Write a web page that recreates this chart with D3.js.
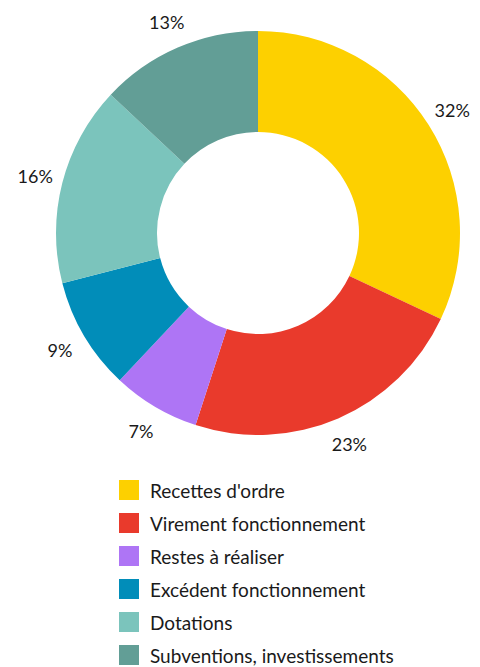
<!DOCTYPE html>
<html><head><meta charset="utf-8">
<script src="https://cdn.jsdelivr.net/npm/d3@7"></script>
<style>body{margin:0;background:#fff;} svg{display:block;}</style>
</head><body>
<svg id="c" width="480" height="667"></svg>
<script>
const categories = ["Recettes d'ordre","Virement fonctionnement","Restes à réaliser","Excédent fonctionnement","Dotations","Subventions, investissements"];
const values = [32, 23, 7, 9, 16, 13];
const colors = ["#FDD000","#E93A2C","#AE75F5","#018DB9","#7BC4BC","#629E96"];

const svg = d3.select("#c");
const font = "'Source Sans Pro', Lato, sans-serif";
const cx = 258, cy = 233, R = 202, r = 101, labelR = 230;
const data = categories.map((c,i)=>({name:c, value:values[i], color:colors[i]}));
const pie = d3.pie().value(d=>d.value).sort(null);
const arcs = pie(data);
const arc = d3.arc().innerRadius(r).outerRadius(R);
const g = svg.append("g").attr("transform",`translate(${cx},${cy})`);
g.selectAll("path").data(arcs).join("path").attr("d",arc).attr("fill",d=>d.data.color);
const labelArc = d3.arc().innerRadius(labelR).outerRadius(labelR);
g.selectAll("text").data(arcs).join("text")
  .attr("transform",d=>`translate(${labelArc.centroid(d)})`)
  .attr("text-anchor","middle").attr("dominant-baseline","central")
  .style("font-family",font).style("font-size","18px").attr("fill","#1a1a1a")
  .text(d=>d.data.value+"%");

const color = d3.scaleOrdinal().domain(categories).range(colors);
const leg = svg.append("g");
const y = d3.scaleBand().domain(categories).range([480, 480+33*6]);
const rows = leg.selectAll("g").data(categories).join("g").attr("transform",d=>`translate(119,${y(d)})`);
rows.append("rect").attr("width",20).attr("height",20).attr("fill",d=>color(d));
rows.append("text").attr("x",31).attr("y",10).attr("dominant-baseline","central")
  .style("font-family",font).style("font-size","19px").attr("fill","#1a1a1a").text(d=>d);
</script>
</body></html>
